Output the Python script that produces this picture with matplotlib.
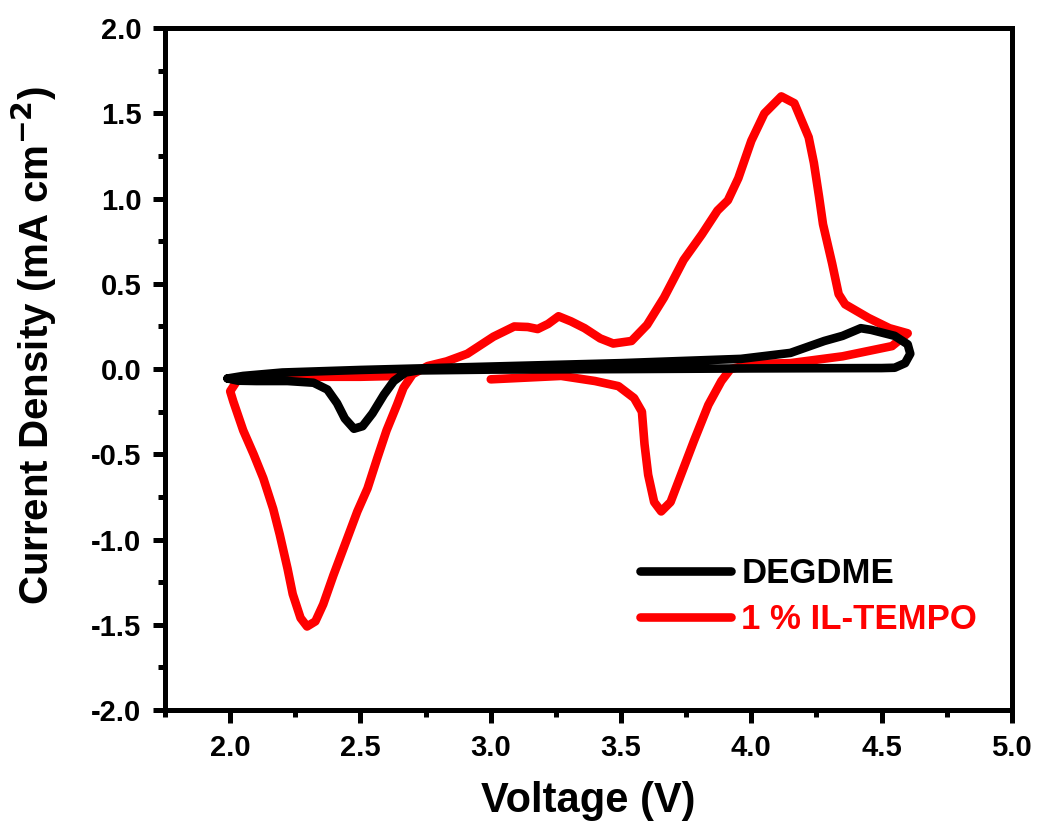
import matplotlib
matplotlib.use("Agg")
import matplotlib.pyplot as plt
from matplotlib.ticker import MultipleLocator

plt.rcParams['font.family'] = ['Liberation Sans', 'DejaVu Sans']
plt.rcParams['font.weight'] = 'bold'
plt.rcParams['mathtext.default'] = 'bf'

# DEGDME (black) cyclic voltammogram, traced as one loop
degdme_v = [1.99, 2.03, 2.10, 2.22, 2.32, 2.373, 2.41, 2.44, 2.475, 2.508, 2.546, 2.59,
            2.628, 2.673, 2.72, 3.00, 3.50, 4.00, 4.22, 4.50, 4.55, 4.59, 4.61, 4.60,
            4.55, 4.46, 4.42, 4.35, 4.28, 4.15, 3.96, 3.50, 3.00, 2.50, 2.20, 2.05, 1.99]
degdme_i = [-0.055, -0.068, -0.07, -0.07, -0.08, -0.12, -0.20, -0.29, -0.35, -0.335, -0.26, -0.15,
            -0.07, -0.02, -0.008, -0.003, 0.0, 0.004, 0.005, 0.006, 0.008, 0.035, 0.09, 0.145,
            0.195, 0.23, 0.24, 0.195, 0.165, 0.095, 0.06, 0.035, 0.015, -0.005, -0.02, -0.04, -0.055]

# 1 % IL-TEMPO (red) cyclic voltammogram
tempo_v = [3.00, 3.27, 3.40, 3.49, 3.55, 3.58, 3.59, 3.604, 3.627, 3.654, 3.69, 3.73,
           3.78, 3.835, 3.885, 3.92, 4.00, 4.15, 4.35, 4.54, 4.60, 4.53, 4.45, 4.36,
           4.335, 4.31, 4.275, 4.26, 4.24, 4.22, 4.165, 4.115, 4.05, 4.00, 3.95, 3.91,
           3.87, 3.81, 3.74, 3.665, 3.60, 3.54, 3.47, 3.42, 3.36, 3.308, 3.26, 3.22,
           3.18, 3.142, 3.09, 3.01, 2.91, 2.83, 2.758, 2.70, 2.665, 2.64, 2.60, 2.565,
           2.527, 2.488, 2.45, 2.396, 2.357, 2.327, 2.295, 2.27, 2.24, 2.22, 2.19, 2.165,
           2.127, 2.09, 2.05, 2.012, 2.00, 2.03, 2.20, 2.50, 2.65]
tempo_i = [-0.06, -0.04, -0.07, -0.10, -0.17, -0.25, -0.44, -0.62, -0.78, -0.835, -0.78, -0.62,
           -0.42, -0.21, -0.07, 0.0, 0.03, 0.035, 0.075, 0.135, 0.21, 0.24, 0.30, 0.38,
           0.44, 0.62, 0.85, 1.01, 1.21, 1.36, 1.56, 1.60, 1.50, 1.34, 1.12, 0.99,
           0.93, 0.79, 0.64, 0.42, 0.26, 0.165, 0.15, 0.18, 0.24, 0.28, 0.31, 0.265,
           0.235, 0.247, 0.25, 0.19, 0.09, 0.045, 0.018, -0.03, -0.11, -0.21, -0.36, -0.52,
           -0.70, -0.835, -0.99, -1.21, -1.38, -1.48, -1.51, -1.46, -1.32, -1.17, -0.97, -0.82,
           -0.64, -0.50, -0.36, -0.19, -0.13, -0.06, -0.045, -0.045, -0.04]

x_ticks = [2.0, 2.5, 3.0, 3.5, 4.0, 4.5, 5.0]
y_ticks = [-2.0, -1.5, -1.0, -0.5, 0.0, 0.5, 1.0, 1.5, 2.0]

fig = plt.figure(figsize=(10.4, 8.3), dpi=100)
ax = fig.add_axes([0.1587, 0.1446, 0.8143, 0.8214])

ax.plot(tempo_v, tempo_i, color='#ff0000', lw=6.2, solid_joinstyle='round',
        solid_capstyle='round', label='1 % IL-TEMPO', zorder=2)
ax.plot(degdme_v, degdme_i, color='black', lw=6.2, solid_joinstyle='round',
        solid_capstyle='round', label='DEGDME', zorder=3)

ax.set_xlim(1.75, 5.0)
ax.set_ylim(-2.0, 2.0)
ax.set_xticks(x_ticks)
ax.set_yticks(y_ticks)
ax.set_xticklabels([f"{t:.1f}" for t in x_ticks])
ax.set_yticklabels([f"{t:.1f}" for t in y_ticks])
ax.xaxis.set_minor_locator(MultipleLocator(0.25))
ax.yaxis.set_minor_locator(MultipleLocator(0.25))

for s in ax.spines.values():
    s.set_linewidth(3.6)
ax.tick_params(which='major', direction='out', length=9, width=3.6,
               labelsize=21, pad=8)
ax.tick_params(which='minor', direction='out', length=5, width=3.6)
ax.tick_params(top=False, right=False, which='both')
for lab in ax.get_xticklabels() + ax.get_yticklabels():
    lab.set_fontweight('bold')

ax.set_xlabel('Voltage (V)', fontsize=30, fontweight='bold', labelpad=14)
ax.set_ylabel('Current Density (mA cm$^{\\mathbf{-2}}$)', fontsize=29,
              fontweight='bold')
ax.yaxis.set_label_coords(-0.125, 0.535)

handles, labels = ax.get_legend_handles_labels()
order = [1, 0]
leg = ax.legend([handles[i] for i in order], [labels[i] for i in order],
                loc='lower left', bbox_to_anchor=(0.545, 0.088), frameon=False,
                fontsize=25, handlelength=2.6, handletextpad=0.3,
                labelspacing=0.37, borderaxespad=0)
for txt, h in zip(leg.get_texts(), [handles[i] for i in order]):
    txt.set_color(h.get_color())
    txt.set_fontweight('bold')

fig.savefig('out.png', dpi=100)
